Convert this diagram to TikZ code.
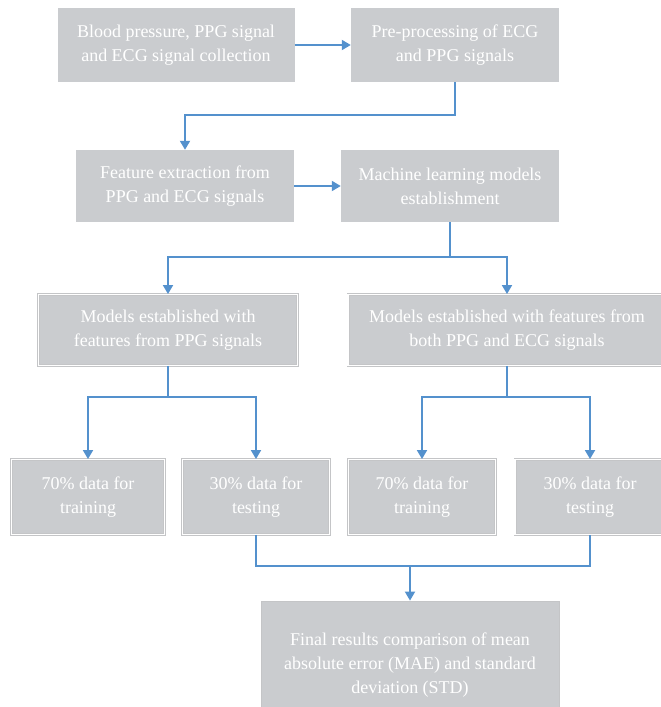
\documentclass[tikz,border=0pt]{standalone}
\usepackage{fontspec}
\setmainfont{Liberation Serif}
\usetikzlibrary{arrows.meta}
\definecolor{G4}{RGB}{202,204,207}
\definecolor{F4}{RGB}{196,197,199}
\definecolor{B4}{RGB}{84,145,205}

\begin{document}
\begin{tikzpicture}[x=1pt, y=-1pt,
    box/.style={fill=G4, text=white, align=center, inner sep=0pt,
                font=\fontsize{18}{24}\selectfont},
    lowbox/.style={box, draw=F4, double=white, double distance=1.2pt, line width=0.9pt},
    link/.style={B4, line width=1.8pt},
    arr/.style={link, -{Triangle[width=10pt,length=9pt]}}]
      \useasboundingbox (0,0) rectangle (661,707);
      % first two rows
      \node[box, minimum width=237, minimum height=74] (b1) at (176,45) {Blood pressure, PPG signal\\and ECG signal collection};
      \node[box, minimum width=208, minimum height=74] (b2) at (455,45) {Pre-processing of ECG\\and PPG signals};
      \node[box, minimum width=218, minimum height=72] (b3) at (185,186) {Feature extraction from\\PPG and ECG signals};
      \node[box, minimum width=218, minimum height=72] (b4) at (450,186) {Machine learning models\\establishment};
      % models
      \node[lowbox, minimum width=259, minimum height=71] (b5) at (168,330) {Models established with\\features from PPG signals};
      \node[lowbox, minimum width=318, minimum height=71] (b6) at (507,330) {Models established with features from\\both PPG and ECG signals};
      % data split
      \node[lowbox, minimum width=153, minimum height=75] (b7) at (88,497) {70\% data for\\training};
      \node[lowbox, minimum width=147, minimum height=75] (b8) at (256,497) {30\% data for\\testing};
      \node[lowbox, minimum width=147, minimum height=75] (b9) at (422,497) {70\% data for\\training};
      \node[lowbox, minimum width=150, minimum height=75] (b10) at (590,497) {30\% data for\\testing};
      \node[box, draw=F4, line width=0.8pt, minimum width=298, minimum height=128] (fin) at (410,665) {Final results comparison of mean\\absolute error (MAE) and standard\\deviation (STD)};
      % connectors
      \draw[arr] (b1) -- (b2);
      \draw[arr] (b2.south) -- ++(0,33) -| (b3.north);
      \draw[arr] (b3) -- (b4);
      \draw[link] (b4.south) -- ++(0,35) coordinate (s4);
      \draw[arr] (s4) -| (b5.north);
      \draw[arr] (s4) -| (b6.north);
      \draw[link] (b5.south) -- ++(0,31) coordinate (s5);
      \draw[arr] (s5) -| (b7.north);
      \draw[arr] (s5) -| (b8.north);
      \draw[link] (b6.south) -- ++(0,31) coordinate (s6);
      \draw[arr] (s6) -| (b9.north);
      \draw[arr] (s6) -| (b10.north);
      \draw[link] (b8.south) |- (fin.north |- 0,566) coordinate (s8) -| (b10.south);
      \draw[arr] (s8) -- (fin.north);
    \end{tikzpicture}
\end{document}
